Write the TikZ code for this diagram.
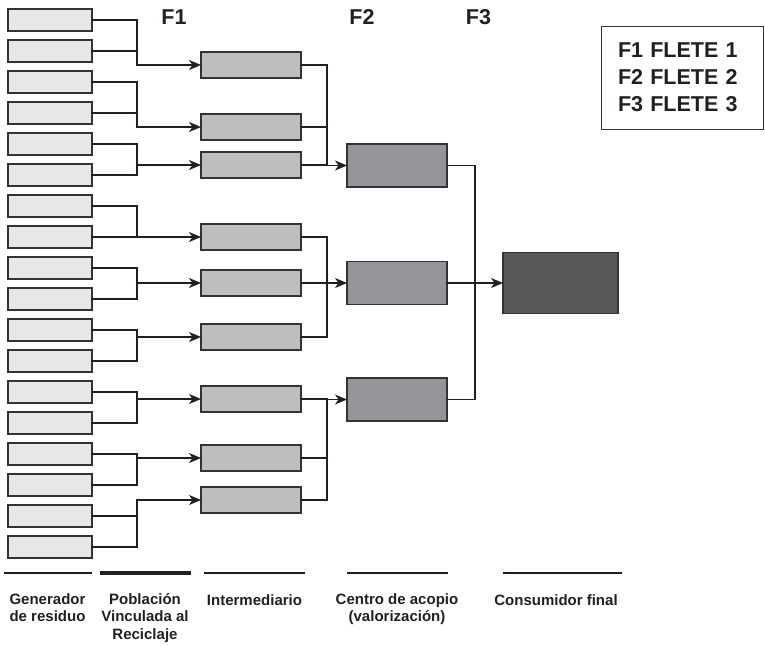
\documentclass[tikz,border=0pt]{standalone}
\usepackage{fontspec}
\setmainfont{Liberation Sans}
\usetikzlibrary{arrows.meta}
\definecolor{borde}{HTML}{333333}
\definecolor{linea}{HTML}{231F20}
\definecolor{gris10}{HTML}{E6E7E8}
\definecolor{gris30}{HTML}{BCBEC0}
\definecolor{gris50}{HTML}{939598}
\definecolor{gris80}{HTML}{58595B}

\begin{document}
\begin{tikzpicture}[x=1pt, y=-1pt,
	caja/.style={draw=borde, line width=1.3pt, inner sep=0pt, outer sep=0pt},
	generador/.style={caja, fill=gris10, minimum width=84pt, minimum height=22pt},
	intermedio/.style={caja, fill=gris30, minimum width=100pt, minimum height=26pt},
	acopio/.style={caja, fill=gris50, minimum width=100pt, minimum height=43pt},
	consumidor/.style={caja, fill=gris80, minimum width=115pt, minimum height=61pt},
	enlace/.style={draw=linea, line width=1.1pt, line cap=rect},
	flecha/.style={draw=linea, line width=1.1pt, -{Stealth[length=12pt, width=10pt, inset=3.5pt]}},
	fase/.style={font=\bfseries\fontsize{21.5}{25}\selectfont, text=linea, inner sep=0pt},
	leyenda/.style={draw=borde, line width=0.9pt, minimum width=162pt, minimum height=103pt, text width=128pt, align=left, inner sep=0pt, font=\bfseries\fontsize{21.5}{27}\selectfont, text=linea},
	etiqueta/.style={anchor=north, align=center, inner sep=0pt, font=\bfseries\fontsize{15}{17.5}\selectfont, text=linea, execute at begin node=\rule{0pt}{12pt}},
	raya/.style={draw=linea, line width=1.3pt}]
	\useasboundingbox (0,0) rectangle (765,645);

	% columnas de cajas
	\foreach \n in {1,...,18}
		\node[generador] (g\n) at (50,{20+31*(\n-1)}) {};
	\foreach \y [count=\n] in {65,127,165,237,283,337,399,458,500}
		\node[intermedio] (i\n) at (251,\y) {};
	\foreach \y [count=\n] in {165.5,283,399.5}
		\node[acopio] (a\n) at (397,\y) {};
	\node[consumidor] (c) at (560.5,283) {};

	% ejes de los fletes
	\coordinate (x1) at (137,0);
	\coordinate (x2) at (327,0);
	\coordinate (x3) at (475,0);

	% F1
	\foreach \n in {1,...,18}{
		\pgfmathtruncatemacro{\k}{(\n+1)/2}
		\draw[enlace] (g\n.east) -| (x1 |- i\k);
	}
	\foreach \k in {1,...,9}
		\draw[flecha] (x1 |- i\k) -- (i\k.west);

	% F2
	\foreach \m in {1,...,9}{
		\pgfmathtruncatemacro{\k}{(\m+2)/3}
		\draw[enlace] (i\m.east) -| (x2 |- a\k);
	}
	\foreach \k in {1,2,3}
		\draw[flecha] (x2 |- a\k) -- (a\k.west);

	% F3
	\foreach \k in {1,2,3}
		\draw[enlace] (a\k.east) -| (x3 |- c);
	\draw[flecha] (x3 |- c) -- (c.west);

	% titulos y leyenda
	\node[fase] (f1) at (174,17) {F1};
	\node[fase] (f2) at (362,17) {F2};
	\node[fase] (f3) at (478.5,17) {F3};
	\node[leyenda] (ley) at (682,77.5) {F1 FLETE 1\\F2 FLETE 2\\F3 FLETE 3\\[-5pt]};

	% pie
	\draw[raya] (4,573) -- (92,573);
	\draw[raya, line width=4pt] (100,573) -- (191,573);
	\draw[raya] (204,573) -- (305,573);
	\draw[raya] (347,573) -- (448,573);
	\draw[raya] (503,573) -- (622,573);
	\node[etiqueta] (lgen) at (47.5,593) {Generador\\de residuo};
	\node[etiqueta] (lpob) at (145,593) {Población\\Vinculada al\\Reciclaje};
	\node[etiqueta] (lint) at (254.5,593) {Intermediario};
	\node[etiqueta] (lcen) at (397,593) {Centro de acopio\\(valorización)};
	\node[etiqueta] (lcon) at (556,593) {Consumidor final};
\end{tikzpicture}
\end{document}
